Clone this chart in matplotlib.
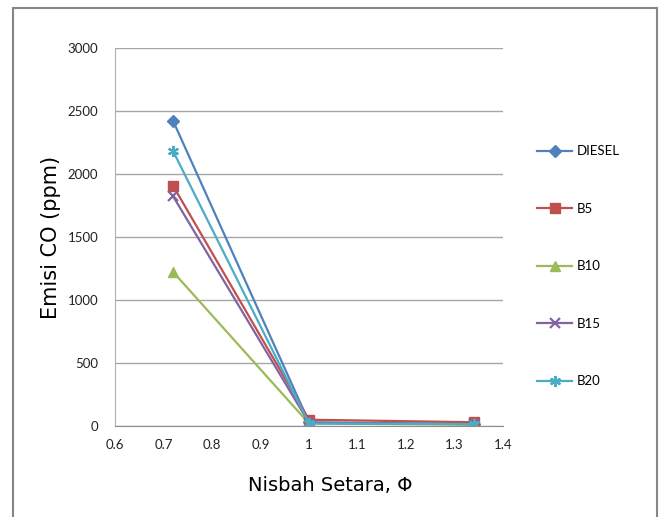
import matplotlib.pyplot as plt
from matplotlib.patches import Rectangle

# Data
phi = [0.72, 1.0, 1.34]
diesel = [2420, 30, 15]
b5 = [1905, 50, 30]
b10 = [1222, 20, 10]
b15 = [1822, 25, 15]
b20 = [2180, 20, 15]

series = [
    ('DIESEL', diesel, '#4F81BD', 'D', 6),
    ('B5', b5, '#C0504D', 's', 7),
    ('B10', b10, '#9BBB59', '^', 7),
    ('B15', b15, '#8064A2', 'x', 7),
    ('B20', b20, '#4BACC6', (6, 2, 0), 8),
]

plt.rcParams['font.family'] = ['Lato', 'DejaVu Sans']

fig = plt.figure(figsize=(6.61, 5.17), dpi=100)
ax = fig.add_axes([0.174, 0.176, 0.587, 0.731])

for name, vals, col, mk, ms in series:
    ax.plot(phi, vals, color=col, lw=1.6, marker=mk, markersize=ms,
            markeredgewidth=1.6 if mk in ('x', (6, 2, 0)) else 1,
            markeredgecolor=col, label=name)

ax.set_xlim(0.6, 1.4)
ax.set_ylim(0, 3000)
ax.set_xticks([0.6, 0.7, 0.8, 0.9, 1.0, 1.1, 1.2, 1.3, 1.4])
ax.set_xticklabels(['0.6', '0.7', '0.8', '0.9', '1', '1.1', '1.2', '1.3', '1.4'])
ax.set_yticks(range(0, 3001, 500))
ax.yaxis.grid(True, color='#A6A6A6', lw=1)
ax.set_axisbelow(True)
ax.tick_params(length=0, labelsize=9.5, colors='#222222')
ax.tick_params(axis='y', pad=12)
ax.tick_params(axis='x', pad=9)
for s in ['top', 'right']:
    ax.spines[s].set_visible(False)
ax.spines['left'].set_color('#B0B0B0')
ax.spines['bottom'].set_color('#8C8C8C')

ax.set_ylabel('Emisi CO (ppm)', fontsize=15, family=['DejaVu Sans'], labelpad=5)
ax.set_xlabel('Nisbah Setara, \u03a6', fontsize=14, family=['DejaVu Sans'],
              labelpad=18, x=0.554)

fig.legend(loc='upper left', bbox_to_anchor=(0.812, 0.719), frameon=False,
           fontsize=9.5, labelspacing=3.45, handlelength=2.7, handletextpad=0.3,
           borderpad=0, borderaxespad=0)

# Outer chart border
fig.patches.append(Rectangle((13 / 661, -0.05), 644 / 661, 1 - 8 / 517 + 0.05,
                             transform=fig.transFigure, fill=False,
                             edgecolor='#868686', lw=1.5))

fig.savefig('out.png', dpi=100)
